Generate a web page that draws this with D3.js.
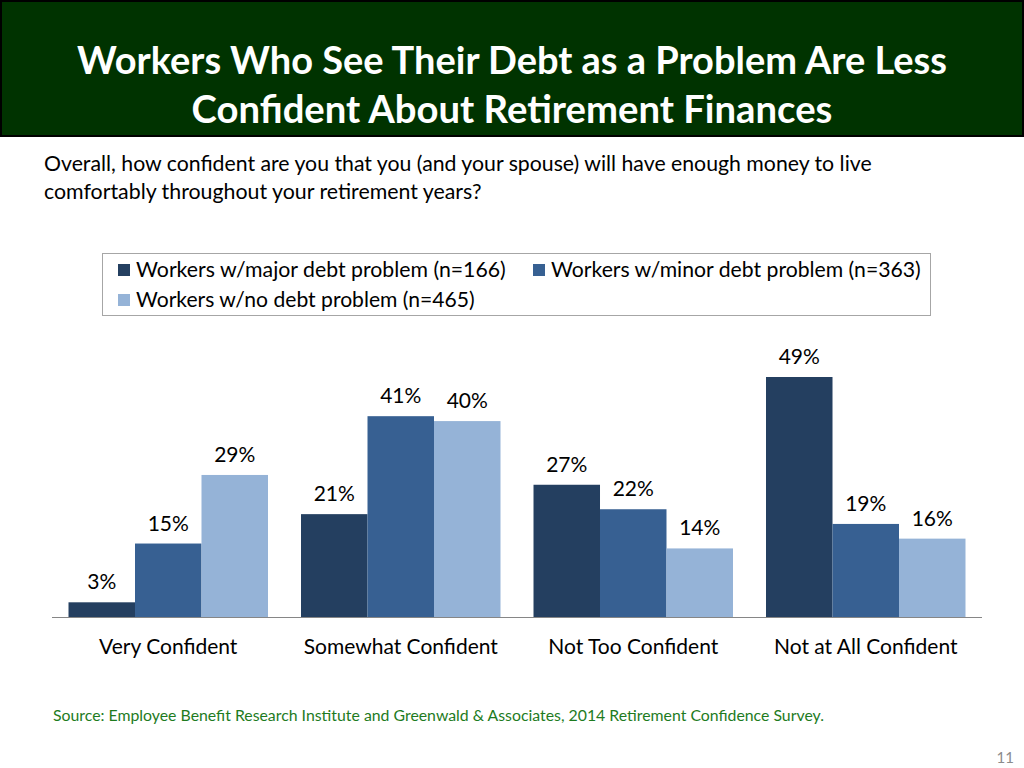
<!DOCTYPE html>
<html><head><meta charset="utf-8">
<script src="https://cdn.jsdelivr.net/npm/d3@7"></script>
<style>body{margin:0;background:#fff}svg{display:block}</style>
</head><body>
<script>
const categories = ["Very Confident","Somewhat Confident","Not Too Confident","Not at All Confident"];
const seriesNames = ["Workers w/major debt problem (n=166)","Workers w/minor debt problem (n=363)","Workers w/no debt problem (n=465)"];
const majorDebt = [3,21,27,49];
const minorDebt = [15,41,22,19];
const noDebt = [29,40,14,16];
const colors = ["#243f60","#376092","#95b3d7"];
const titleLines = ["Workers Who See Their Debt as a Problem Are Less","Confident About Retirement Finances"];
const subtitleLines = ["Overall, how confident are you that you (and your spouse) will have enough money to live","comfortably throughout your retirement years?"];
const sourceText = "Source:  Employee Benefit Research Institute and Greenwald & Associates, 2014 Retirement Confidence Survey.";
const pageNum = "11";

const font = "Lato, 'Open Sans', sans-serif";
const W=1024,H=768;
const svg=d3.select("body").append("svg").attr("width",W).attr("height",H).style("font-family",font);

function fitText(sel, target){
  const len=sel.node().getComputedTextLength();
  const fs=parseFloat(sel.attr("font-size"));
  sel.attr("font-size", fs*target/len);
}

// Title band
svg.append("rect").attr("x",1).attr("y",1).attr("width",W-2).attr("height",135).attr("fill","#003300").attr("stroke","#000").attr("stroke-width",2);
const tWidths=[870,641];
titleLines.forEach((t,i)=>{
  const s=svg.append("text").attr("x",512).attr("y",[74,123][i]).attr("text-anchor","middle").attr("fill","#fff").attr("font-weight","bold").attr("font-size",36).text(t);
  fitText(s,tWidths[i]);
});
const sWidths=[828,438];
subtitleLines.forEach((t,i)=>{
  const s=svg.append("text").attr("x",44).attr("y",[171,199][i]).attr("fill","#000").attr("font-size",18).text(t);
  fitText(s,sWidths[i]);
});

// Legend
svg.append("rect").attr("x",102.5).attr("y",253.5).attr("width",828).attr("height",62).attr("fill","#fff").attr("stroke","#a6a6a6").attr("stroke-width",1);
const legPos=[[118,270],[533,270],[118,300]];
const legW=[370,370,339];
seriesNames.forEach((n,i)=>{
  const [lx,ly]=legPos[i];
  svg.append("rect").attr("x",lx).attr("y",ly-6).attr("width",12).attr("height",12).attr("fill",colors[i]);
  const s=svg.append("text").attr("x",lx+18).attr("y",ly+7).attr("font-size",19).attr("fill","#000").text(n);
  fitText(s,legW[i]);
});

// Chart
const baseY=617;
const x0=d3.scaleBand().domain(categories).range([52,982]).paddingInner(0.142).paddingOuter(0.071);
const x1=d3.scaleBand().domain([0,1,2]).range([0,x0.bandwidth()]);
const y=d3.scaleLinear().domain([0,49]).range([baseY,377]);
const series=[majorDebt,minorDebt,noDebt];
const data=[];
categories.forEach((c,ci)=>series.forEach((s,si)=>data.push({c,si,v:s[ci]})));

const g=svg.append("g");
g.selectAll("rect.bar").data(data).join("rect").attr("class","bar")
  .attr("x",d=>x0(d.c)+x1(d.si)).attr("width",x1.bandwidth())
  .attr("y",d=>y(d.v)).attr("height",d=>baseY-y(d.v)).attr("fill",d=>colors[d.si]);
g.selectAll("text.val").data(data).join("text").attr("class","val")
  .attr("x",d=>x0(d.c)+x1(d.si)+x1.bandwidth()/2).attr("y",d=>y(d.v)-13)
  .attr("text-anchor","middle").attr("font-size",21).attr("fill","#000").text(d=>d.v+"%");

const xAxis=d3.axisBottom(x0).tickSize(0).tickPadding(22);
const ax=svg.append("g").attr("transform",`translate(0,${baseY})`).call(xAxis);
ax.select(".domain").attr("stroke","#868686").attr("d","M52,0.5H982");
ax.selectAll("text").attr("font-size",21).attr("font-family",font).attr("fill","#000").attr("dy","0.32em").attr("y",30);

// Source and page number
const src=svg.append("text").attr("x",53).attr("y",721).attr("font-size",14.5).attr("fill","#1e7b1e").text(sourceText);
fitText(src,771);
svg.append("text").attr("x",1014).attr("y",763).attr("text-anchor","end").attr("font-size",15).attr("fill","#8c8c8c").text(pageNum);
</script>
</body></html>
